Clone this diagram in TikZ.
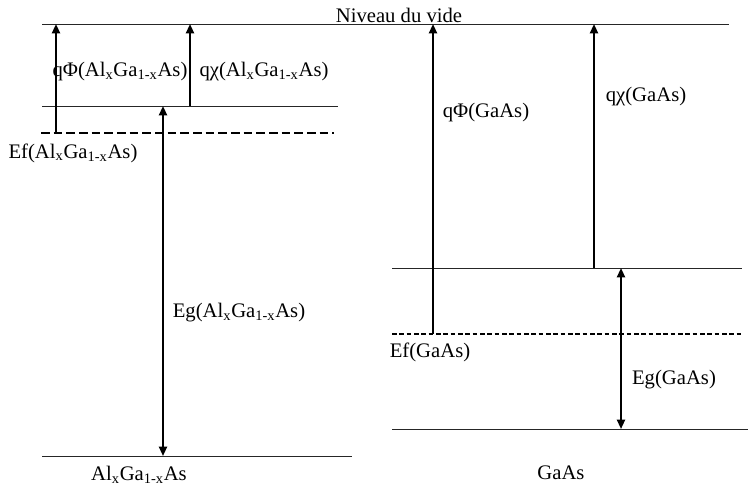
\documentclass[tikz,border=0pt]{standalone}
\usepackage{fontspec}
\setmainfont{Liberation Serif}
\usetikzlibrary{arrows.meta}

\newcommand{\algaas}{Al\textsubscript{x}Ga\textsubscript{1-x}As}

\begin{document}
\begin{tikzpicture}[x=0.75pt, y=-0.75pt,
    level/.style={line width=0.6pt, black!85},
    fermi/.style={line width=#1, dash pattern=on 6.5pt off 3pt},
    arr/.style={-{Triangle[length=7pt, width=6pt]}, line width=1.5pt},
    darr/.style={{Triangle[length=7pt, width=6pt]}-{Triangle[length=7pt, width=6pt]}, line width=1.5pt},
    lbl/.style={font=\fontsize{15.5}{18}\selectfont, inner sep=0pt}
]
    \useasboundingbox (0,0) rectangle (748,486);

    % Vacuum level
    \coordinate (vacL) at (42,24);
    \coordinate (vacR) at (729,24);
    \draw[level] (vacL) -- (vacR);
    \node[lbl, anchor=base] (vide) at (399,22) {Niveau du vide};

    % AlGaAs levels
    \coordinate (ecAL) at (42,106);   \coordinate (ecAR) at (338,106);
    \coordinate (efAL) at (41,133);   \coordinate (efAR) at (334,133);
    \coordinate (evAL) at (42,456);   \coordinate (evAR) at (352,456);
    \draw[level] (ecAL) -- (ecAR);
    \draw[fermi=1.5pt] (efAL) -- (efAR);
    \draw[level] (evAL) -- (evAR);

    % GaAs levels
    \coordinate (ecBL) at (392,268);  \coordinate (ecBR) at (742,268);
    \coordinate (efBL) at (392,334);  \coordinate (efBR) at (742,334);
    \coordinate (evBL) at (392,429);  \coordinate (evBR) at (748,429);
    \draw[level] (ecBL) -- (ecBR);
    \draw[fermi=1.1pt, dash pattern=on 3.5pt off 2pt] (efBL) -- (efBR);
    \draw[level] (evBL) -- (evBR);

    % AlGaAs arrows
    \coordinate (phiA0) at (56,133);  \coordinate (phiA1) at (56,24);
    \coordinate (chiA0) at (190,106); \coordinate (chiA1) at (190,24);
    \coordinate (egA0) at (163,456);  \coordinate (egA1) at (163,106);
    \draw[arr] (phiA0) -- (phiA1);
    \draw[arr] (chiA0) -- (chiA1);
    \draw[darr] (egA0) -- (egA1);

    % GaAs arrows
    \coordinate (phiB0) at (433,334); \coordinate (phiB1) at (433,24);
    \coordinate (chiB0) at (594,268); \coordinate (chiB1) at (594,24);
    \coordinate (egB0) at (621,429);  \coordinate (egB1) at (621,268);
    \draw[arr] (phiB0) -- (phiB1);
    \draw[arr] (chiB0) -- (chiB1);
    \draw[darr] (egB0) -- (egB1);

    % AlGaAs labels
    \node[lbl] (phiAlbl) at (120,72) {qΦ(\algaas)};
    \node[lbl] (chiAlbl) at (264,72) {qχ(\algaas)};
    \node[lbl] (efAlbl) at (73,153) {Ef(\algaas)};
    \node[lbl] (egAlbl) at (239,313) {Eg(\algaas)};
    \node[lbl] (matA) at (139,475) {\algaas};

    % GaAs labels
    \node[lbl] (phiBlbl) at (486,113) {qΦ(GaAs)};
    \node[lbl] (chiBlbl) at (646,97) {qχ(GaAs)};
    \node[lbl] (efBlbl) at (430,352) {Ef(GaAs)};
    \node[lbl] (egBlbl) at (674,380) {Eg(GaAs)};
    \node[lbl] (matB) at (561,473) {GaAs};
\end{tikzpicture}
\end{document}
